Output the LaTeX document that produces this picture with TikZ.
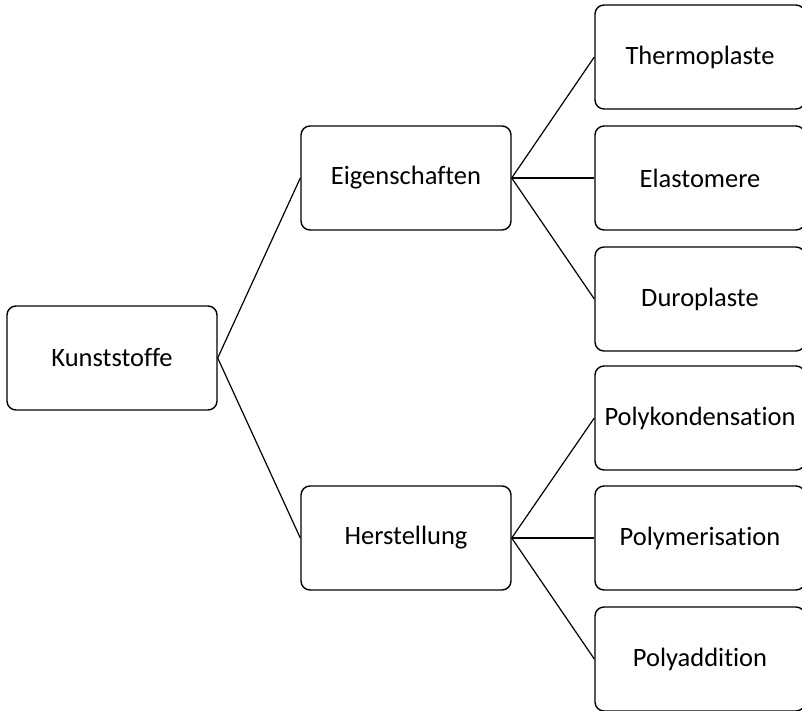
\documentclass[tikz,border=0pt]{standalone}
\usepackage{fontspec}
\setmainfont[Ligatures=NoCommon]{Carlito}

\begin{document}
\begin{tikzpicture}[x=1pt,y=-1pt,
        box/.style={draw, line width=1.4pt, rounded corners=9pt, minimum width=210pt, minimum height=104pt, inner sep=0pt, font=\fontsize{26.5}{30}\selectfont},
        link/.style={line width=1.2pt}]
        \useasboundingbox (0, 0) rectangle (802, 711);
        \node[box] (kunst) at (112, 358) {Kunststoffe};
        \node[box] (eigen) at (406, 178) {Eigenschaften};
        \node[box] (herst) at (406, 538) {Herstellung};
        \node[box] (thermo) at (700, 57) {Thermoplaste};
        \node[box] (elast) at (700, 178) {Elastomere};
        \node[box] (duro) at (700, 299) {Duroplaste};
        \node[box] (kond) at (700, 418) {Polykondensation};
        \node[box] (merisation) at (700, 538) {Polymerisation};
        \node[box] (addition) at (700, 659) {Polyaddition};
        \draw[link] (kunst.east) -- (eigen.west);
        \draw[link] (kunst.east) -- (herst.west);
        \draw[link] (eigen.east) -- (thermo.west);
        \draw[link] (eigen.east) -- (elast.west);
        \draw[link] (eigen.east) -- (duro.west);
        \draw[link] (herst.east) -- (kond.west);
        \draw[link] (herst.east) -- (merisation.west);
        \draw[link] (herst.east) -- (addition.west);
    \end{tikzpicture}
\end{document}
